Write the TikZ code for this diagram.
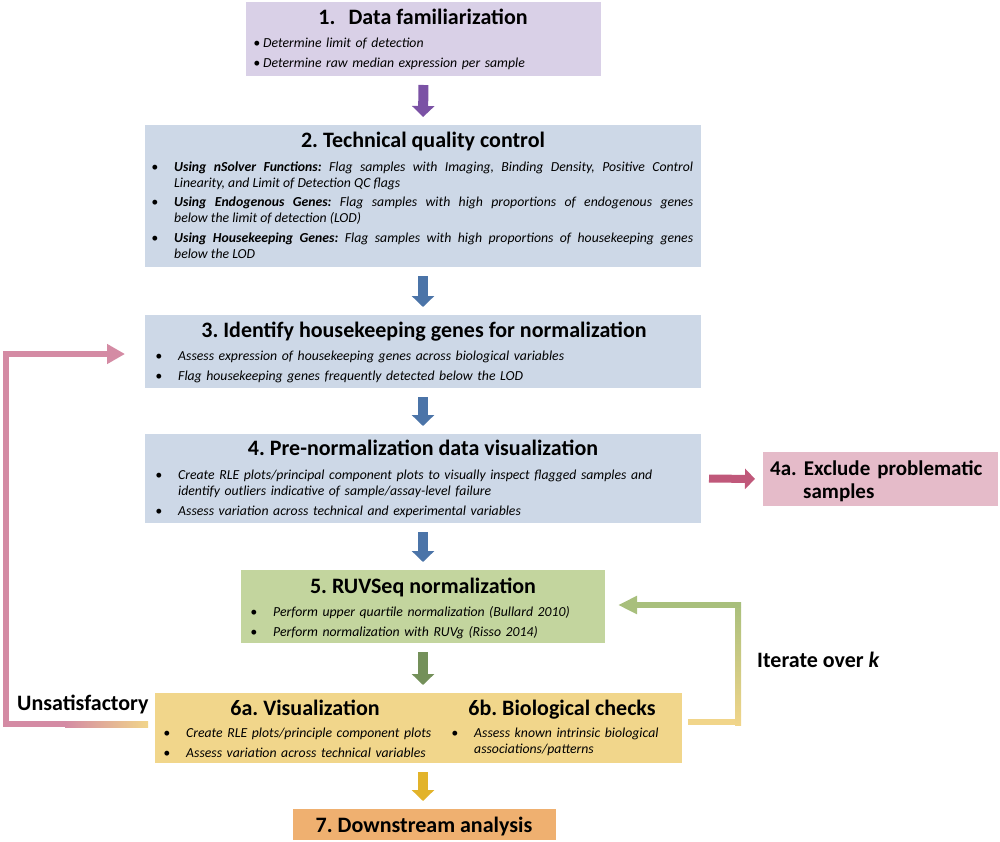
\documentclass[tikz,border=0pt]{standalone}
\usepackage{fontspec}
\setmainfont{Carlito}
\usetikzlibrary{arrows.meta,calc}

\definecolor{famfill}{HTML}{D9D0E7}
\definecolor{qcfill}{HTML}{CDD8E7}
\definecolor{exfill}{HTML}{E5BBC9}
\definecolor{ruvfill}{HTML}{C3D59E}
\definecolor{visfill}{HTML}{F1D68B}
\definecolor{dsfill}{HTML}{EFB070}
\definecolor{famarrow}{HTML}{7B52A5}
\definecolor{qcarrow}{HTML}{4B74A8}
\definecolor{exarrow}{HTML}{C0587A}
\definecolor{ruvarrow}{HTML}{74905A}
\definecolor{visarrow}{HTML}{E2B32A}
\definecolor{pinkline}{HTML}{D48BA4}
\definecolor{yelline}{HTML}{F1D58A}
\definecolor{greenline}{HTML}{A8BF7C}

\def\bdot#1{\llap{\textbullet\hspace{#1pt}}}
\frenchspacing

\tikzset{
	box/.style={anchor=north west, inner sep=0pt, outer sep=0pt},
	ttl/.style={anchor=base, inner sep=0pt, font=\fontsize{22}{23}\selectfont\bfseries},
	bul/.style={anchor=base west, inner sep=0pt, text width=#1, align=left, font=\fontsize{13.75}{16}\selectfont\itshape},
	downarrow/.style={line width=10pt, -{Triangle[length=11pt,width=22pt]}, shorten <=9pt, shorten >=8pt},
	loopline/.style={line width=6pt, line join=miter},
}

\begin{document}
\begin{tikzpicture}[x=1pt,y=-1pt]
		%%%%% START %%%%%
		\useasboundingbox (0,0) rectangle (1000,842);
		
		% 1. data familiarization
		\node[box, fill=famfill, minimum width=355pt, minimum height=74pt] (box1) at (246,2) {};
		\node[ttl] (t1) at (423,25) {1.\hspace{0.6em}Data familiarization};
		\node[bul=330pt] (i1a) at (263,48) {\bdot{3}Determine limit of detection};
		\node[bul=330pt] (i1b) at (263,68) {\bdot{3}Determine raw median expression per sample};
		
		% 2. technical qc
		\node[box, fill=qcfill, minimum width=556pt, minimum height=142pt] (box2) at (145,125) {};
		\node[ttl] (t2) at (423,148) {2. Technical quality control};
		\node[bul=519pt, align=justify] (i2a) at (174,172) {\bdot{16}\textbf{Using nSolver Functions:} Flag samples with Imaging, Binding Density, Positive Control\linebreak Linearity, and Limit of Detection QC flags};
		\node[bul=519pt, align=justify] (i2b) at (174,207) {\bdot{16}\textbf{Using Endogenous Genes:} Flag samples with high proportions of endogenous genes\linebreak below the limit of detection (LOD)};
		\node[bul=519pt, align=justify] (i2c) at (174,243) {\bdot{16}\textbf{Using Housekeeping Genes:} Flag samples with high proportions of housekeeping genes\linebreak below the LOD};
		
		% 3. housekeeping genes
		\node[box, fill=qcfill, minimum width=556pt, minimum height=73pt] (box3) at (145,315) {};
		\node[ttl] (t3) at (424,337) {3. Identify housekeeping genes for normalization};
		\node[bul=515pt] (i3a) at (178,360) {\bdot{16}Assess expression of housekeeping genes across biological variables};
		\node[bul=515pt] (i3b) at (178,380) {\bdot{16}Flag housekeeping genes frequently detected below the LOD};
		
		% 4. pre-normalization
		\node[box, fill=qcfill, minimum width=556pt, minimum height=89pt] (box4) at (145,434) {};
		\node[ttl] (t4) at (423,455) {4. Pre-normalization data visualization};
		\node[bul=515pt] (i4a) at (178,479) {\bdot{16}Create RLE plots/principal component plots to visually inspect flagged samples and\\identify outliers indicative of sample/assay-level failure};
		\node[bul=515pt] (i4b) at (178,515) {\bdot{16}Assess variation across technical and experimental variables};
		
		% 4a. exclude
		\node[box, fill=exfill, minimum width=235pt, minimum height=54pt] (box4a) at (763,452) {};
		\node[ttl, anchor=base west, text width=228pt, align=left, font=\fontsize{21}{23}\selectfont\bfseries] (t4a) at (770,475) {4a. Exclude problematic\\\hspace*{33pt}samples};
		
		% 5. RUVSeq
		\node[box, fill=ruvfill, minimum width=364pt, minimum height=73pt] (box5) at (241,570) {};
		\node[ttl] (t5) at (423,593) {5. RUVSeq normalization};
		\node[bul=320pt] (i5a) at (273,616) {\bdot{16}Perform upper quartile normalization (Bullard 2010)};
		\node[bul=320pt] (i5b) at (273,636) {\bdot{16}Perform normalization with RUVg (Risso 2014)};
		
		% 6. checks
		\node[box, fill=visfill, minimum width=527pt, minimum height=70pt] (box6) at (155,693) {};
		\node[ttl] (t6a) at (305,715) {6a. Visualization};
		\node[ttl] (t6b) at (562,715) {6b. Biological checks};
		\node[bul=270pt] (i6a) at (186,737) {\bdot{16}Create RLE plots/principle component plots};
		\node[bul=270pt] (i6b) at (186,757) {\bdot{16}Assess variation across technical variables};
		\node[bul=200pt] (i6c) at (474,737) {\bdot{16}Assess known intrinsic biological\\associations/patterns};
		
		% 7. downstream
		\node[box, fill=dsfill, minimum width=263pt, minimum height=31pt] (box7) at (293,809) {};
		\node[ttl] (t7) at (424,832) {7. Downstream analysis};
		
		% arrows down the chain
		\draw[downarrow, famarrow] (box1.south) -- (box2.north);
		\draw[downarrow, qcarrow] (box2.south) -- (box3.north);
		\draw[downarrow, qcarrow] (box3.south) -- (box4.north);
		\draw[downarrow, qcarrow] (box4.south) -- (box5.north);
		\draw[downarrow, ruvarrow] (box5.south) -- (box5.south |- box6.north);
		\draw[downarrow, visarrow] (box6.south -| box5.south) -- (box5.south |- box7.north);
		\draw[line width=8pt, exarrow, -{Triangle[length=10pt,width=20pt]}, shorten <=8pt, shorten >=8pt] (box4.east) -- (box4a.west);
		
		% unsatisfactory loop
		\coordinate (lb) at (5.5,724);
		\coordinate (lt) at (5.5,354);
		\draw[loopline, pinkline, -{Triangle[length=18pt,width=19pt]}] ([xshift=-7pt,yshift=4pt]box6.west) -- (lb) -- (lt) -- ([xshift=-20pt,yshift=-2.5pt]box3.west);
		\shade[left color=pinkline, right color=yelline] (65,721) rectangle ([xshift=-7pt,yshift=1pt]box6.west);
		\node[anchor=base west, inner sep=0pt, font=\fontsize{22}{23}\selectfont\bfseries] (unsat) at (17,710) {Unsatisfactory};
		
		% iterate loop
		\coordinate (rb) at (738,722);
		\coordinate (rt) at (738,605);
		\draw[loopline, yelline] ([xshift=6pt,yshift=6pt]box6.east) -- ($(rb)+(3,0)$);
		\shade[bottom color=yelline, top color=greenline] ($(rb)+(-3,3)$) rectangle ($(rt)+(3,-3)$);
		\draw[loopline, greenline, -{Triangle[length=19pt,width=17pt]}] ($(rt)+(3,0)$) -- ([xshift=13pt,yshift=1.5pt]box5.east);
		\node[anchor=base west, inner sep=0pt, font=\fontsize{22}{23}\selectfont\bfseries] (iter) at (757,667) {Iterate over \textit{k}};
		
		%%%%% END %%%%%
\end{tikzpicture}
\end{document}
